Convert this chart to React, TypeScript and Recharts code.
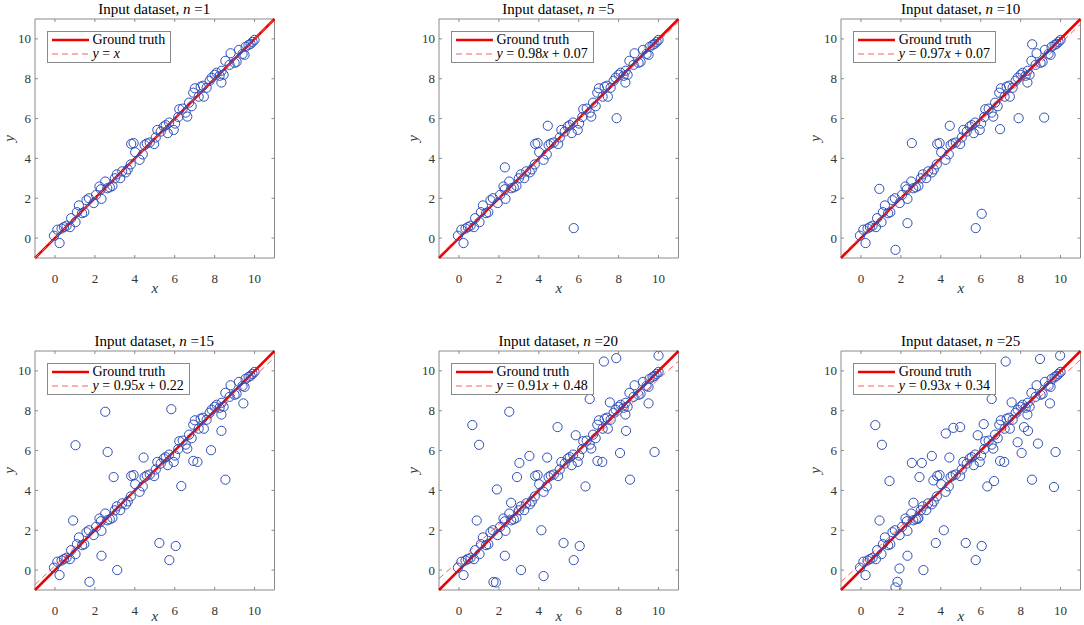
import { Legend, ReferenceArea, ReferenceLine, Scatter, ScatterChart, XAxis, YAxis } from "recharts";

type Pt = [number, number];

// n for each panel, and the fitted line printed in its legend
const panelN = [1, 5, 10, 15, 20, 25];
const fitSlope = [1, 0.98, 0.97, 0.95, 0.91, 0.93];
const fitIntercept = [0, 0.07, 0.07, 0.22, 0.48, 0.34];
const axisTicks = [0, 2, 4, 6, 8, 10];

// points close to y = x, shared by every panel
const basePoints: Pt[] = [
  [-0.05, 0.12], [0.12, 0.42], [0.23, -0.25], [0.33, 0.48], [0.45, 0.55], [0.58, 0.62], [0.75, 0.55],
  [0.81, 1.0], [1.03, 0.8], [1.1, 1.3], [1.2, 1.64], [1.36, 1.25], [1.47, 1.3], [1.58, 1.9], [1.7, 2.0],
  [1.94, 1.76], [2.06, 2.17], [2.23, 2.59], [2.33, 1.97], [2.3, 2.45], [2.52, 2.84], [2.62, 2.5],
  [2.75, 2.55], [2.88, 2.62], [3.0, 3.0], [3.1, 3.2], [3.27, 3.01], [3.37, 3.35], [3.55, 3.3],
  [3.65, 3.45], [3.8, 3.7], [3.82, 4.73], [3.94, 4.77], [4.02, 4.31], [4.24, 3.93], [4.4, 4.2],
  [4.49, 4.67], [4.6, 4.75], [4.75, 4.8], [4.97, 4.72], [5.05, 5.05], [5.13, 5.43], [5.3, 5.35],
  [5.45, 5.6], [5.55, 5.67], [5.65, 5.27], [5.72, 5.8], [5.95, 5.43], [6.02, 5.75], [6.18, 6.08],
  [6.23, 6.47], [6.4, 6.5], [6.55, 6.3], [6.63, 6.1], [6.72, 6.8], [6.85, 6.62], [6.93, 7.3],
  [7.01, 7.52], [7.2, 7.1], [7.3, 7.6], [7.42, 7.65], [7.46, 7.1], [7.6, 7.55], [7.75, 7.9],
  [7.85, 8.05], [8.0, 8.2], [8.1, 8.3], [8.25, 8.15], [8.35, 8.4], [8.34, 7.81], [8.45, 8.2],
  [8.54, 8.9], [8.75, 8.7], [8.8, 9.28], [9.0, 8.8], [9.1, 8.85], [9.22, 9.45], [9.4, 9.25],
  [9.55, 9.6], [9.5, 9.2], [9.7, 9.7], [9.8, 9.75], [9.9, 9.85], [10.0, 9.95],
];

const outliers1: Pt[] = [];
const outliers5: Pt[] = [[5.75, 0.5], [7.9, 6.02], [4.45, 5.64], [2.3, 3.55]];
const outliers10: Pt[] = [
  [2.55, 4.77], [0.92, 2.47], [2.33, 0.75], [1.73, -0.59], [5.75, 0.5], [6.05, 1.22],
  [6.97, 5.47], [9.18, 6.05], [8.58, 9.73], [7.9, 6.02], [4.45, 5.64],
];
const outliers15: Pt[] = [
  [1.03, 6.27], [2.52, 7.95], [2.64, 5.93], [2.94, 4.67], [0.91, 2.49], [2.33, 0.72], [1.73, -0.59],
  [3.12, 0.0], [5.23, 1.36], [5.73, 0.5], [6.05, 1.21], [5.83, 8.08], [4.44, 5.65], [6.33, 4.22],
  [6.93, 5.48], [7.14, 5.43], [7.82, 6.02], [8.34, 6.99], [8.54, 4.54], [9.44, 8.37],
];
const outliers20: Pt[] = [
  [0.67, 7.28], [1.01, 6.29], [2.52, 7.95], [1.9, 4.05], [2.61, 3.38], [2.91, 4.67], [3.03, 5.38],
  [3.53, 5.73], [0.89, 2.49], [2.3, 0.72], [1.73, -0.6], [1.85, -0.62], [3.11, 0.0], [4.13, 2.0],
  [4.24, -0.3], [5.24, 1.36], [5.75, 0.5], [6.05, 1.21], [4.94, 7.18], [4.42, 5.65], [5.85, 6.77],
  [6.34, 4.2], [6.55, 8.59], [7.26, 10.47], [7.88, 10.64], [10.0, 10.77], [7.56, 8.42], [6.94, 5.48],
  [7.18, 5.43], [8.07, 5.88], [8.37, 6.99], [8.57, 4.54], [9.5, 8.37], [9.8, 5.93],
];
const outliers25: Pt[] = [
  [0.72, 7.28], [1.05, 6.29], [1.43, 4.47], [0.93, 2.49], [2.55, 5.38], [3.05, 5.38], [2.93, 4.67],
  [2.63, 3.38], [3.55, 5.73], [3.63, 4.5], [4.25, 6.86], [4.63, 7.14], [4.97, 7.18], [4.43, 5.65],
  [2.85, 2.57], [2.33, 0.72], [1.93, 0.08], [1.83, -0.59], [1.73, -0.87], [3.13, 0.0], [3.75, 1.36],
  [4.15, 2.0], [5.25, 1.36], [5.75, 0.5], [6.05, 1.21], [5.85, 6.77], [6.15, 7.33], [6.33, 4.2],
  [6.67, 4.47], [6.55, 8.59], [7.25, 10.47], [8.97, 10.6], [9.98, 10.77], [7.55, 8.42], [6.97, 5.48],
  [7.18, 5.43], [7.85, 6.42], [8.05, 5.88], [8.17, 7.18], [8.37, 6.99], [8.57, 4.54], [8.87, 6.35],
  [9.47, 8.37], [9.75, 5.93], [9.67, 4.17],
];
const panelOutliers = [outliers1, outliers5, outliers10, outliers15, outliers20, outliers25];

const FONT = '"Liberation Serif", "DejaVu Serif", serif';
const RED = "#ee0000";
const FIT_RED = "#ff6161";
const BLUE = "#3050b8";
const FRAME = "#8a8a8a";
const TICK = 3;

const PLOT_W = 239.5;
const PLOT_H = 239;
const MARGIN_TOP = 24;
const Y_AXIS_W = 42;
const X_AXIS_H = 44;
const CHART_W = Y_AXIS_W + PLOT_W + 2;
const CHART_H = MARGIN_TOP + PLOT_H + X_AXIS_H;
const colLeft = [34.5, 438.5, 840.8];
const rowTop = [19.2, 351.2];
// distance of the "x" label below the plot (bottom row sits against the page edge)
const xLabelGap = [30, 26];

function XTick(props: any) {
  const cx = props.payload?.coordinate ?? props.x;
  const top = MARGIN_TOP;
  const bottom = MARGIN_TOP + PLOT_H;
  return (
    <g>
      <line x1={cx} x2={cx} y1={bottom} y2={bottom - TICK} stroke={FRAME} />
      <line x1={cx} x2={cx} y1={top} y2={top + TICK} stroke={FRAME} />
      <text x={cx} y={bottom + 20} textAnchor="middle" dominantBaseline="central" fontFamily={FONT} fontSize={13} fill="#333">
        {props.payload.value}
      </text>
    </g>
  );
}

function YTick(props: any) {
  const cy = props.payload?.coordinate ?? props.y;
  const left = Y_AXIS_W;
  const right = Y_AXIS_W + PLOT_W;
  return (
    <g>
      <line x1={left} x2={left + TICK} y1={cy} y2={cy} stroke={FRAME} />
      <line x1={right} x2={right - TICK} y1={cy} y2={cy} stroke={FRAME} />
      <text x={left - 4} y={cy} textAnchor="end" dominantBaseline="central" fontFamily={FONT} fontSize={13} fill="#333">
        {props.payload.value}
      </text>
    </g>
  );
}

function fitText(a: number, b: number) {
  if (a === 1 && b === 0) return <><i>y</i> = <i>x</i></>;
  return <><i>y</i> = {a.toFixed(2)}<i>x</i> + {b.toFixed(2)}</>;
}

function PanelLegend({ slope, intercept }: { slope: number; intercept: number }) {
  const row = { display: "flex", alignItems: "center", height: 14 } as const;
  return (
    <div style={{ background: "#fff", border: `1px solid ${FRAME}`, padding: "1px 5px 1px 4px", fontFamily: FONT, fontSize: 14, lineHeight: "14px", color: "#000", whiteSpace: "nowrap" }}>
      <div style={row}>
        <svg width={37} height={8}>
          <line x1={0} y1={4} x2={37} y2={4} stroke={RED} strokeWidth={2.5} />
        </svg>
        <span style={{ marginLeft: 4 }}>Ground truth</span>
      </div>
      <div style={row}>
        <svg width={37} height={8}>
          <line x1={0} y1={4} x2={37} y2={4} stroke={FIT_RED} strokeWidth={1} strokeDasharray="6 4" />
        </svg>
        <span style={{ marginLeft: 4 }}>{fitText(slope, intercept)}</span>
      </div>
    </div>
  );
}

function Panel({ idx }: { idx: number }) {
  const row = Math.floor(idx / 3);
  const left = colLeft[idx % 3];
  const top = rowTop[row];
  const a = fitSlope[idx];
  const b = fitIntercept[idx];
  const data = [...basePoints, ...panelOutliers[idx]].map(([x, y]) => ({ x, y }));

  return (
    <>
      <div style={{ position: "absolute", left, top: top - 18, width: PLOT_W, textAlign: "center", fontFamily: FONT, fontSize: 15, lineHeight: "16px", color: "#000", whiteSpace: "nowrap" }}>
        Input dataset, <i>n</i> ={panelN[idx]}
      </div>
      <div style={{ position: "absolute", left: left - Y_AXIS_W, top: top - MARGIN_TOP }}>
        <ScatterChart width={CHART_W} height={CHART_H} margin={{ top: MARGIN_TOP, right: 2, bottom: 0, left: 0 }}>
          <XAxis
            dataKey="x"
            type="number"
            domain={[-1, 11]}
            ticks={axisTicks}
            allowDataOverflow
            height={X_AXIS_H}
            axisLine={false}
            tickLine={false}
            tick={<XTick />}
            label={() => (
              <text x={Y_AXIS_W + PLOT_W / 2} y={MARGIN_TOP + PLOT_H + xLabelGap[row]} textAnchor="middle" dominantBaseline="central" fontFamily={FONT} fontSize={15} fontStyle="italic" fill="#333">
                x
              </text>
            )}
          />
          <YAxis
            dataKey="y"
            type="number"
            domain={[-1, 11]}
            ticks={axisTicks}
            allowDataOverflow
            width={Y_AXIS_W}
            axisLine={false}
            tickLine={false}
            tick={<YTick />}
            label={() => (
              <text x={0} y={0} transform={`translate(${Y_AXIS_W - 26} ${MARGIN_TOP + PLOT_H / 2}) rotate(-90)`} textAnchor="middle" dominantBaseline="central" fontFamily={FONT} fontSize={15} fontStyle="italic" fill="#333">
                y
              </text>
            )}
          />
          <ReferenceArea x1={-1} x2={11} y1={-1} y2={11} fill="none" fillOpacity={0} stroke={FRAME} strokeWidth={1} />
          <Scatter
            data={data}
            isAnimationActive={false}
            shape={(p: any) => <circle cx={p.cx} cy={p.cy} r={4.6} fill="none" stroke={BLUE} strokeWidth={1} />}
          />
          <ReferenceLine segment={[{ x: -1, y: -1 }, { x: 11, y: 11 }]} stroke={RED} strokeWidth={2.5} />
          <ReferenceLine segment={[{ x: -1, y: a * -1 + b }, { x: 11, y: a * 11 + b }]} stroke={FIT_RED} strokeWidth={1} strokeDasharray="6 4" />
          <Legend
            layout="vertical"
            align="center"
            verticalAlign="middle"
            wrapperStyle={{ left: Y_AXIS_W + 12, top: MARGIN_TOP + 12, width: "auto" }}
            content={() => <PanelLegend slope={a} intercept={b} />}
          />
        </ScatterChart>
      </div>
    </>
  );
}

export default function App() {
  return (
    <div style={{ position: "absolute", left: 0, top: 0, width: 1084, height: 625, background: "#fff", overflow: "hidden" }}>
      {panelN.map((_, i) => (
        <Panel key={i} idx={i} />
      ))}
    </div>
  );
}
